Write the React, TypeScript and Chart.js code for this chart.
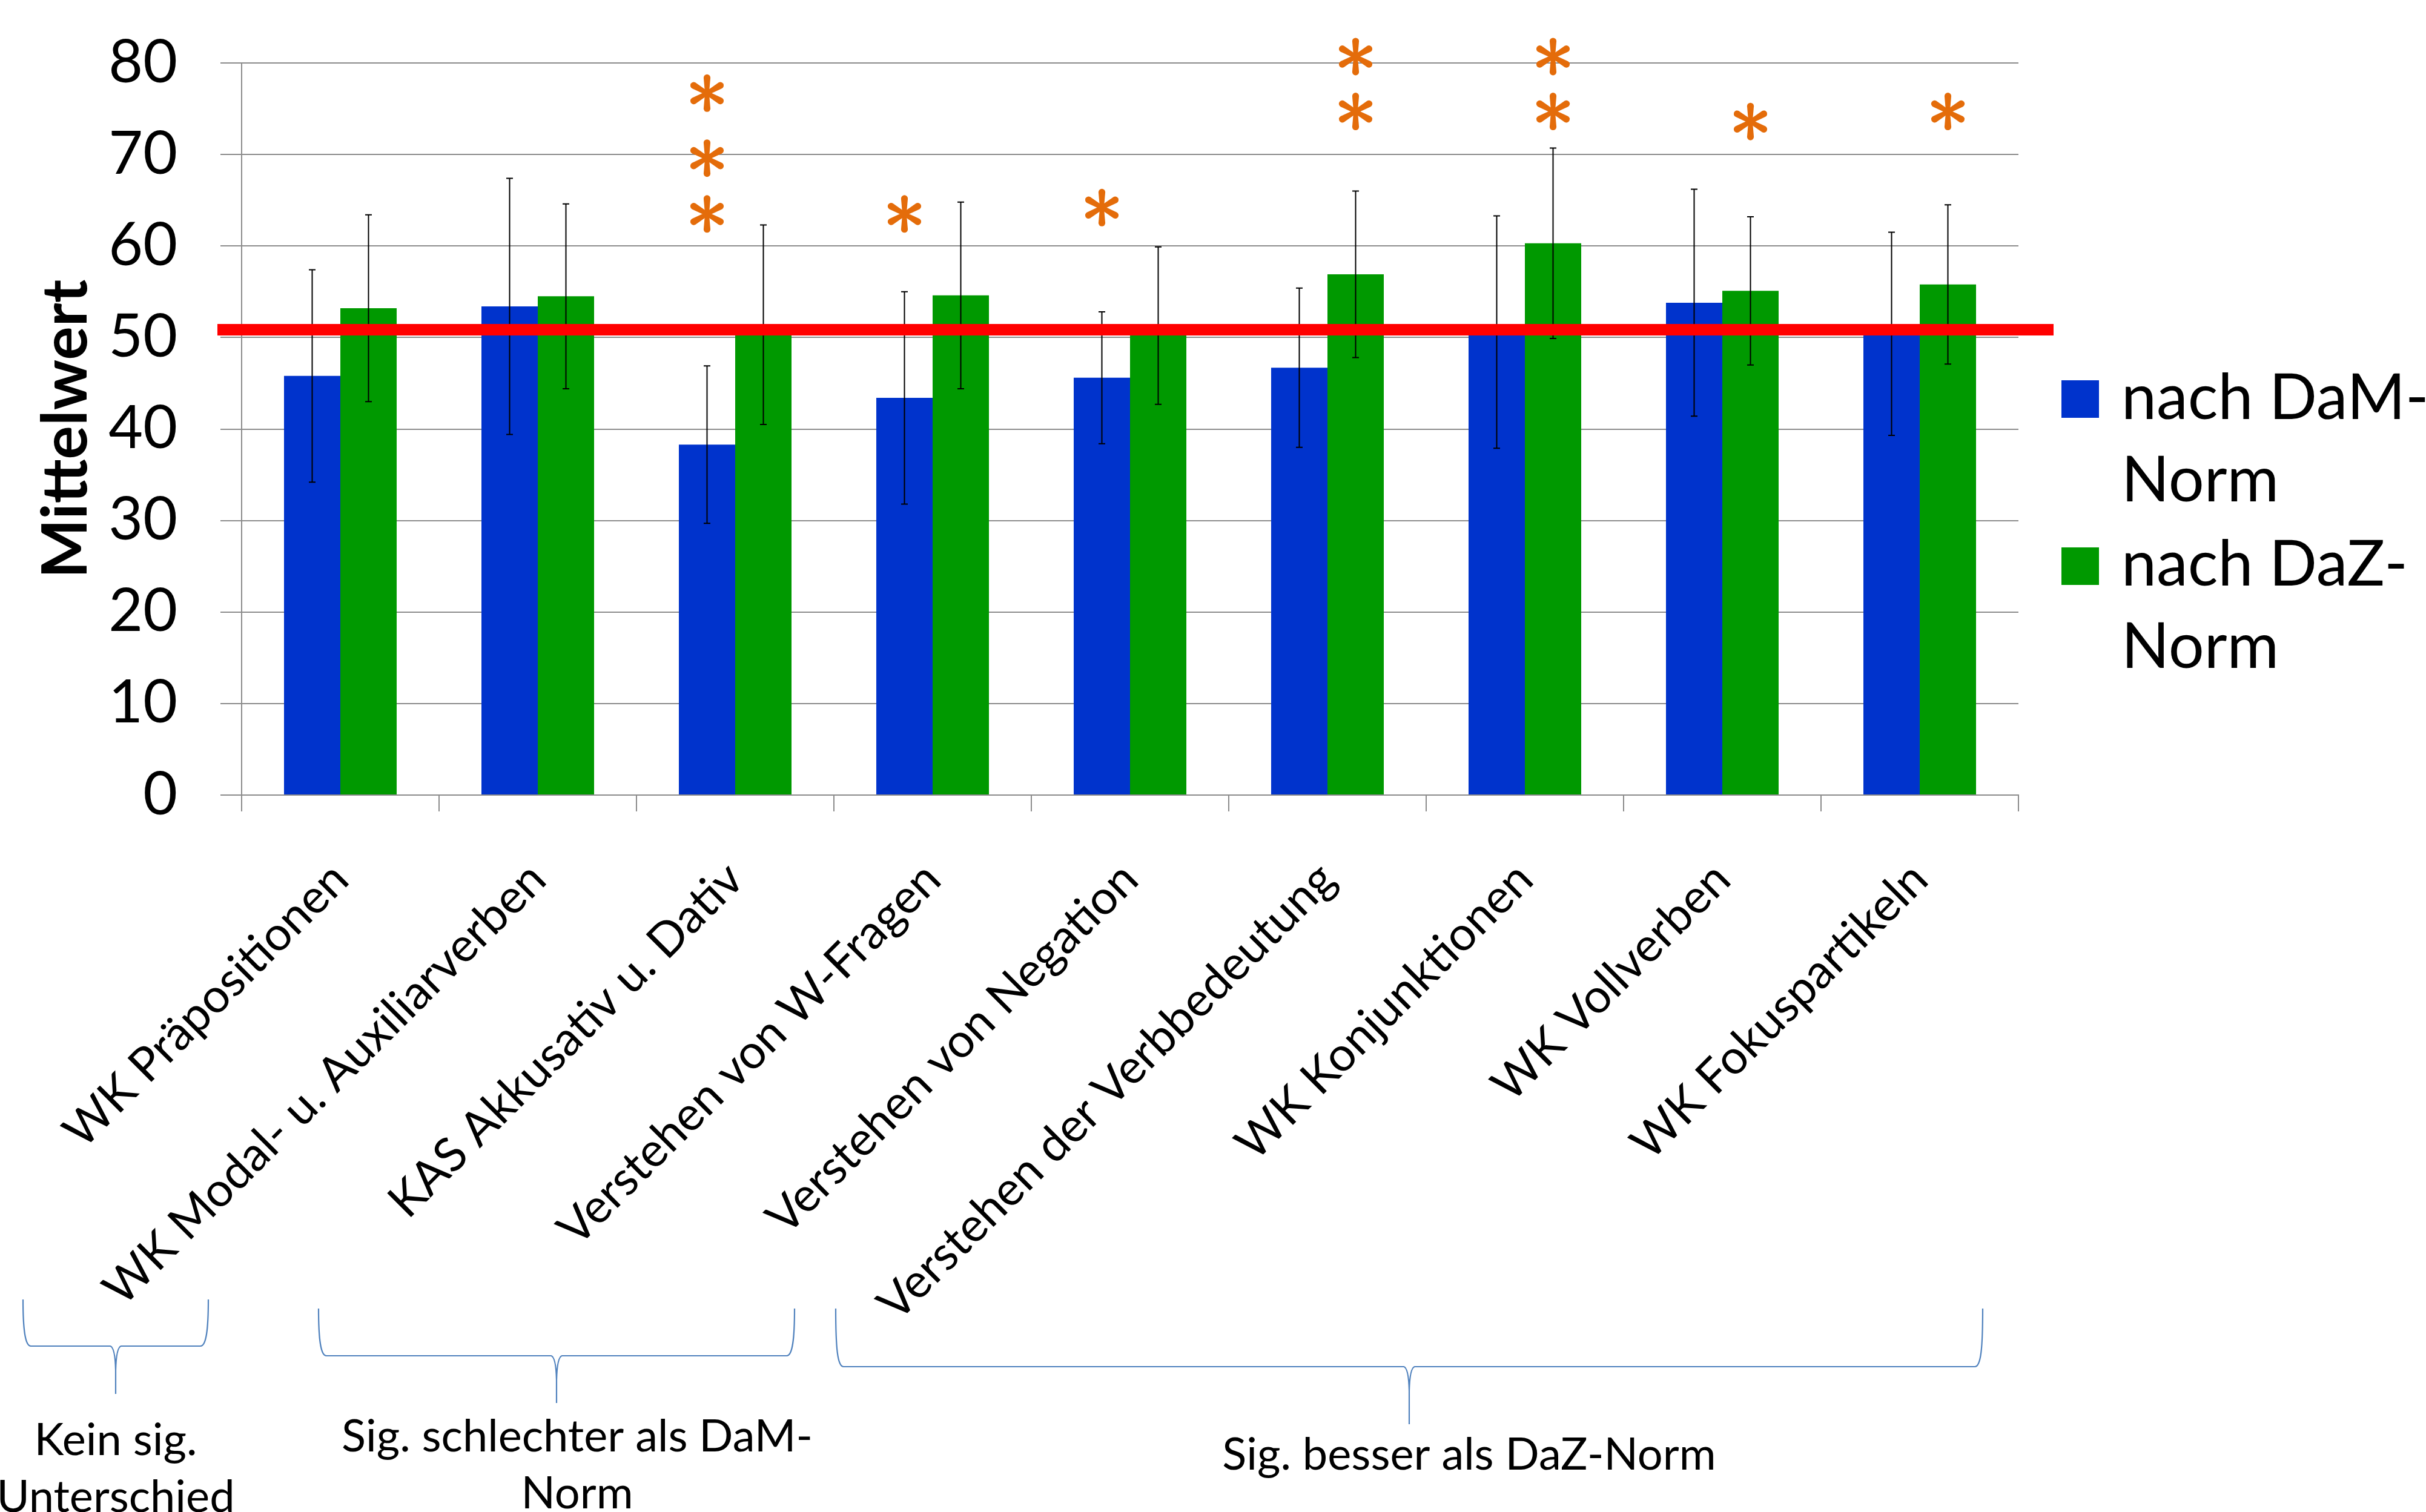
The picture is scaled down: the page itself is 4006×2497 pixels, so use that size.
import React, { useEffect, useRef } from "react";
import { Chart, registerables } from "chart.js";

Chart.register(...registerables);

// ---------------- data ----------------
const categories = [
  "WK Präpositionen",
  "WK Modal- u. Auxiliarverben",
  "KAS Akkusativ u. Dativ",
  "Verstehen von W-Fragen",
  "Verstehen von Negation",
  "Verstehen der Verbbedeutung",
  "WK Konjunktionen",
  "WK Vollverben",
  "WK Fokuspartikeln",
];
const seriesNames = ["nach DaM-Norm", "nach DaZ-Norm"];
const legendLines = [
  ["nach DaM-", "Norm"],
  ["nach DaZ-", "Norm"],
];
const damValues = [45.8, 53.4, 38.3, 43.4, 45.6, 46.7, 50.6, 53.8, 50.4];
const dazValues = [53.2, 54.5, 51.4, 54.6, 51.3, 56.9, 60.3, 55.1, 55.8];
const damErrors = [11.6, 14.0, 8.6, 11.6, 7.2, 8.7, 12.7, 12.4, 11.1];
const dazErrors = [10.2, 10.1, 10.9, 10.2, 8.6, 9.1, 10.4, 8.1, 8.7];
const referenceValue = 50.85;
const yMin = 0;
const yMax = 80;
const yStep = 10;
// significance asterisks: category index, series index, value position
const starCategory = [2, 2, 2, 3, 4, 5, 5, 6, 6, 7, 8];
const starSeries = [0, 0, 0, 0, 0, 1, 1, 1, 1, 1, 1];
const starValues = [76.7, 69.6, 63.5, 63.5, 64.2, 80.7, 74.7, 80.7, 74.7, 73.6, 74.7];
const groupLabels = [
  ["Kein sig.", "Unterschied"],
  ["Sig. schlechter als DaM-", "Norm"],
  ["Sig. besser als DaZ-Norm"],
];

// ---------------- styles / layout ----------------
const W = 4006;
const H = 2497;
const FONT = "Lato";
const BLUE = "#0033CC";
const GREEN = "#009900";
const RED = "#FF0000";
const ORANGE = "#E46C0A";
const GRID = "#8C8C8C";
const BRACE = "#4F81BD";
const PLOT_LEFT = 399;
const PLOT_RIGHT = 3333;
const PLOT_TOP = 104;
const PLOT_BOTTOM = 1313;

const braces = [
  { x1: 38, x2: 344, cx: 191, top: 2146, mid: 2223, tip: 2302, textY: 2403 },
  { x1: 526, x2: 1312, cx: 919, top: 2161, mid: 2239, tip: 2317, textY: 2397 },
  { x1: 1380, x2: 3274, cx: 2327, top: 2161, mid: 2257, tip: 2352, textY: 2427 },
];
const groupTextX = [191, 953, 2426];

function drawAsterisk(ctx: CanvasRenderingContext2D, cx: number, cy: number) {
  const r = 31;
  const w0 = 3.4;
  const w1 = 5.6;
  ctx.save();
  ctx.fillStyle = ORANGE;
  [90, 30, -30, -90, -150, 150].forEach((deg) => {
    const a = (deg * Math.PI) / 180;
    const dx = Math.cos(a);
    const dy = -Math.sin(a);
    const px = -dy;
    const py = dx;
    const L = r - w1;
    ctx.beginPath();
    ctx.moveTo(cx + px * w0, cy + py * w0);
    ctx.lineTo(cx + dx * L + px * w1, cy + dy * L + py * w1);
    ctx.arc(cx + dx * L, cy + dy * L, w1, Math.atan2(py, px), Math.atan2(py, px) - Math.PI, true);
    ctx.lineTo(cx - px * w0, cy - py * w0);
    ctx.closePath();
    ctx.fill();
  });
  ctx.beginPath();
  ctx.arc(cx, cy, 7, 0, Math.PI * 2);
  ctx.fill();
  ctx.restore();
}

function drawBrace(ctx: CanvasRenderingContext2D, b: typeof braces[number]) {
  ctx.save();
  ctx.strokeStyle = BRACE;
  ctx.lineWidth = 2.2;
  ctx.beginPath();
  ctx.moveTo(b.x1, b.top);
  ctx.bezierCurveTo(b.x1, b.mid - 30, b.x1 + 3, b.mid, b.x1 + 13, b.mid);
  ctx.lineTo(b.cx - 9, b.mid);
  ctx.quadraticCurveTo(b.cx - 1, b.mid + 2, b.cx, b.mid + 40);
  ctx.lineTo(b.cx, b.tip);
  ctx.moveTo(b.cx, b.mid + 40);
  ctx.quadraticCurveTo(b.cx + 1, b.mid + 2, b.cx + 9, b.mid);
  ctx.lineTo(b.x2 - 13, b.mid);
  ctx.bezierCurveTo(b.x2 - 3, b.mid, b.x2, b.mid - 30, b.x2, b.top);
  ctx.stroke();
  ctx.restore();
}

export default function App() {
  const ref = useRef<HTMLCanvasElement>(null);

  useEffect(() => {
    document.body.style.margin = "0";
    document.body.style.overflow = "hidden";
    const canvas = ref.current;
    if (!canvas) return;
    const errors = [damErrors, dazErrors];

    const errorBarPlugin = {
      id: "errorBars",
      afterDatasetsDraw(chart: any) {
        const ctx = chart.ctx as CanvasRenderingContext2D;
        const y = chart.scales.y;
        ctx.save();
        ctx.strokeStyle = "#000";
        ctx.lineWidth = 2;
        chart.data.datasets.forEach((ds: any, di: number) => {
          const meta = chart.getDatasetMeta(di);
          meta.data.forEach((bar: any, i: number) => {
            const v = ds.data[i] as number;
            const e = errors[di][i];
            const x = bar.x;
            const yt = y.getPixelForValue(v + e);
            const yb = y.getPixelForValue(v - e);
            ctx.beginPath();
            ctx.moveTo(x, yt);
            ctx.lineTo(x, yb);
            ctx.moveTo(x - 5.5, yt);
            ctx.lineTo(x + 5.5, yt);
            ctx.moveTo(x - 5.5, yb);
            ctx.lineTo(x + 5.5, yb);
            ctx.stroke();
          });
        });
        ctx.restore();
      },
    };

    const overlayPlugin = {
      id: "overlay",
      afterDraw(chart: any) {
        const ctx = chart.ctx as CanvasRenderingContext2D;
        const y = chart.scales.y;
        const area = chart.chartArea;
        // reference line
        const ry = y.getPixelForValue(referenceValue);
        ctx.save();
        ctx.fillStyle = RED;
        ctx.fillRect(area.left - 40, ry - 9.5, area.right - area.left + 98, 19);
        ctx.restore();
        // asterisks
        starValues.forEach((v, k) => {
          const bar = chart.getDatasetMeta(starSeries[k]).data[starCategory[k]];
          drawAsterisk(ctx, bar.x, y.getPixelForValue(v));
        });
        // legend
        ctx.save();
        ctx.font = `104px ${FONT}`;
        ctx.fillStyle = "#000";
        ctx.textAlign = "left";
        ctx.textBaseline = "alphabetic";
        const colors = [BLUE, GREEN];
        const boxTops = [628, 904];
        const baselines = [692, 967];
        legendLines.forEach((lines, i) => {
          ctx.fillStyle = colors[i];
          ctx.fillRect(3404, boxTops[i], 62, 62);
          ctx.fillStyle = "#000";
          lines.forEach((t, j) => ctx.fillText(t, 3503, baselines[i] + j * 136));
        });
        ctx.restore();
        // braces and group labels
        braces.forEach((b) => drawBrace(ctx, b));
        ctx.save();
        ctx.font = `74px ${FONT}`;
        ctx.fillStyle = "#000";
        ctx.textAlign = "center";
        ctx.textBaseline = "alphabetic";
        groupLabels.forEach((lines, i) => {
          lines.forEach((t, j) => ctx.fillText(t, groupTextX[i], braces[i].textY + j * 94));
        });
        ctx.restore();
      },
    };

    const chart = new Chart(canvas, {
      type: "bar",
      data: {
        labels: categories,
        datasets: [
          { label: seriesNames[0], data: damValues, backgroundColor: BLUE, borderWidth: 0 },
          { label: seriesNames[1], data: dazValues, backgroundColor: GREEN, borderWidth: 0 },
        ],
      },
      options: {
        responsive: false,
        animation: false,
        devicePixelRatio: 1,
        events: [],
        layout: {
          autoPadding: false,
          padding: { left: 0, top: PLOT_TOP, right: W - PLOT_RIGHT, bottom: 0 },
        },
        datasets: {
          bar: { categoryPercentage: 0.5706, barPercentage: 1.0 },
        },
        plugins: {
          legend: { display: false },
          tooltip: { enabled: false },
        },
        scales: {
          x: {
            grid: {
              display: true,
              drawOnChartArea: false,
              drawTicks: true,
              tickLength: 27,
              offset: true,
              color: GRID,
              lineWidth: 2,
            },
            border: { display: true, color: GRID, width: 2 },
            ticks: {
              autoSkip: false,
              minRotation: 45,
              maxRotation: 45,
              padding: 66,
              color: "#000",
              font: { family: FONT, size: 78 },
            },
            afterFit: (s: any) => {
              s.height = H - PLOT_BOTTOM;
              s.paddingLeft = 0;
              s.paddingRight = 0;
            },
          },
          y: {
            min: yMin,
            max: yMax,
            ticks: {
              stepSize: yStep,
              padding: 71,
              color: "#000",
              font: { family: FONT, size: 98 },
            },
            grid: { color: GRID, lineWidth: 2, tickLength: 35, drawTicks: true },
            border: { display: true, color: GRID, width: 2 },
            title: {
              display: true,
              text: "Mittelwert",
              color: "#000",
              font: { family: FONT, size: 104, weight: "bold" },
              padding: { top: 47, bottom: 0 },
            },
            afterFit: (s: any) => {
              s.width = PLOT_LEFT;
              s.paddingTop = 0;
              s.paddingBottom = 0;
            },
          },
        },
      } as any,
      plugins: [errorBarPlugin, overlayPlugin],
    });
    return () => chart.destroy();
  }, []);

  return (
    <canvas
      ref={ref}
      width={W}
      height={H}
      style={{ display: "block", position: "absolute", left: 0, top: 0, width: W, height: H }}
    />
  );
}
